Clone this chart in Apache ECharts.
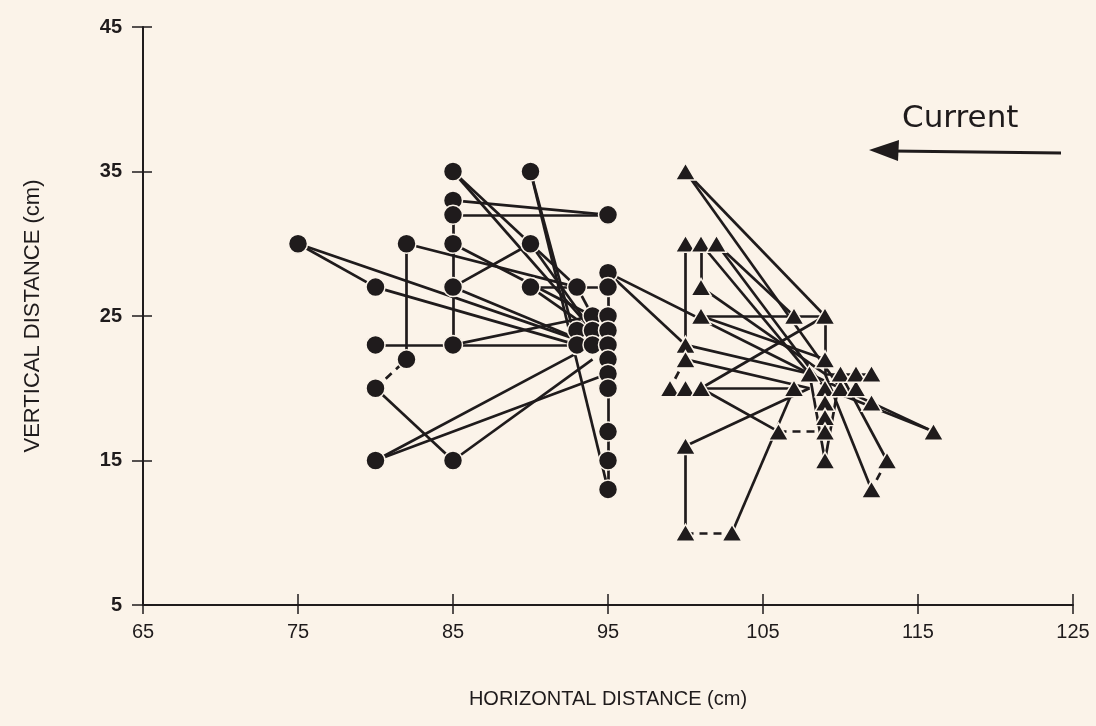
<!DOCTYPE html>
<html>
<head>
<meta charset="utf-8">
<script src="https://cdn.jsdelivr.net/npm/echarts@6/dist/echarts.min.js"></script>
<style>
  html, body { margin: 0; padding: 0; background: #fbf3e9; }
  #chart { width: 1096px; height: 726px; }
</style>
</head>
<body>
<div id="chart"></div>
<script>
// positions (cm)
const circlePoints = [
  [75, 30], [80, 27], [82, 30], [80, 23], [82, 22], [80, 20], [80, 15], [85, 15],
  [85, 35], [85, 33], [85, 32], [85, 30], [85, 27], [85, 23],
  [90, 35], [90, 30], [90, 27], [93, 27], [94, 25], [93, 24], [94, 24], [93, 23], [94, 23],
  [95, 32], [95, 28], [95, 27], [95, 25], [95, 24], [95, 23], [95, 22],
  [95, 21], [95, 20], [95, 17], [95, 15], [95, 13]
];

const trianglePoints = [
  [100, 35], [100, 30], [101, 30], [102, 30], [101, 27], [101, 25], [107, 25], [109, 25],
  [100, 23], [100, 22], [99, 20], [100, 20], [101, 20], [100, 16], [100, 10], [103, 10],
  [106, 17], [109, 22], [107, 20], [108, 21], [109, 20], [110, 20], [111, 20],
  [110, 21], [111, 21], [112, 21], [112, 19], [109, 19], [109, 18], [109, 17],
  [109, 15], [113, 15], [112, 13], [116, 17]
];

// movement segments, [from, to]
const circleTracks = [
  [[75, 30], [80, 27]], [[75, 30], [94, 23]], [[80, 27], [93, 23]], [[82, 30], [93, 27]],
  [[82, 30], [82, 22]], [[80, 23], [93, 23]], [[80, 20], [85, 15]], [[80, 15], [94, 23]],
  [[80, 15], [95, 21]], [[85, 15], [94, 22]], [[85, 35], [93, 27]], [[85, 35], [94, 24]],
  [[85, 33], [95, 32]], [[85, 32], [95, 32]], [[85, 32], [85, 23]], [[85, 30], [94, 25]],
  [[85, 27], [90, 30]], [[85, 27], [94, 23]], [[85, 23], [94, 25]], [[90, 35], [95, 13]],
  [[90, 35], [93, 23]], [[90, 30], [94, 24]], [[90, 27], [95, 27]], [[90, 27], [94, 24]],
  [[93, 27], [94, 25]], [[95, 27], [95, 13]], [[95, 28], [100, 23]], [[95, 28], [108, 21]]
];

const triangleTracks = [
  [[100, 35], [109, 25]], [[100, 35], [110, 20]], [[100, 30], [100, 23]], [[101, 30], [101, 27]],
  [[101, 30], [108, 21]], [[102, 30], [107, 25]], [[102, 30], [109, 20]], [[101, 27], [109, 21]],
  [[101, 25], [109, 25]], [[101, 25], [109, 22]], [[101, 20], [109, 25]], [[100, 23], [108, 21]],
  [[100, 22], [108, 20]], [[101, 20], [107, 20]], [[101, 20], [106, 17]], [[100, 16], [100, 10]],
  [[100, 16], [108, 20]], [[103, 10], [107, 20]], [[109, 25], [109, 21]], [[109, 21], [112, 21]],
  [[108, 21], [109, 15]], [[110, 21], [109, 15]], [[109, 21], [112, 13]], [[110, 21], [113, 15]],
  [[108, 21], [116, 17]], [[109, 20], [116, 17]], [[109, 20], [109, 17]]
];

const dashedTracks = [
  [[80, 20], [82, 22]], [[100, 22], [99, 20]], [[100, 10], [103, 10]],
  [[106, 17], [109, 17]], [[113, 15], [112, 13]]
];

const xMin = 65, xMax = 125, xStep = 10;
const yMin = 5, yMax = 45, yStep = 10;

const ink = "#1f1b1c";
const paper = "#fbf3e9";
const font = "'Liberation Sans', Arial, sans-serif";

const chart = echarts.init(document.getElementById("chart"));

const toLines = (tracks) => tracks.map((t) => ({ coords: t }));

const option = {
  backgroundColor: paper,
  animation: false,
  grid: { left: 143, right: 23, top: 27, bottom: 121 },
  xAxis: [
    {
      type: "value", min: xMin, max: xMax, interval: xStep, position: "bottom",
      name: "HORIZONTAL DISTANCE (cm)", nameLocation: "middle", nameGap: 84,
      nameTextStyle: { fontFamily: font, fontSize: 20, color: ink },
      axisLine: { lineStyle: { color: ink, width: 2 } },
      axisTick: { length: 9, lineStyle: { color: ink, width: 1.5 } },
      axisLabel: { margin: 17, color: ink, fontSize: 20, fontFamily: font },
      splitLine: { show: false }
    },
    {
      type: "value", min: xMin, max: xMax, interval: xStep, position: "bottom",
      axisLine: { show: false },
      axisTick: { inside: true, length: 11, lineStyle: { color: ink, width: 1.5 } },
      axisLabel: { show: false },
      splitLine: { show: false }
    }
  ],
  yAxis: [
    {
      type: "value", min: yMin, max: yMax, interval: yStep, position: "left",
      name: "VERTICAL DISTANCE (cm)", nameLocation: "middle", nameGap: 99,
      nameTextStyle: { fontFamily: font, fontSize: 22, color: ink },
      axisLine: { show: true, lineStyle: { color: ink, width: 2 } },
      axisTick: { show: true, length: 11, lineStyle: { color: ink, width: 1.5 } },
      axisLabel: { margin: 21, color: ink, fontSize: 20, fontWeight: "bold", fontFamily: font },
      splitLine: { show: false }
    },
    {
      type: "value", min: yMin, max: yMax, interval: yStep, position: "left",
      axisLine: { show: false },
      axisTick: { show: true, inside: true, length: 9, lineStyle: { color: ink, width: 1.5 } },
      axisLabel: { show: false },
      splitLine: { show: false }
    }
  ],
  series: [
    {
      name: "tracks", type: "lines", coordinateSystem: "cartesian2d",
      data: toLines(circleTracks.concat(triangleTracks)),
      lineStyle: { color: ink, width: 2.7, opacity: 1 },
      z: 2
    },
    {
      name: "dashed", type: "lines", coordinateSystem: "cartesian2d",
      data: toLines(dashedTracks),
      lineStyle: { color: ink, width: 2.7, opacity: 1, type: [8, 6] },
      z: 2
    },
    {
      name: "circles", type: "scatter", data: circlePoints,
      symbol: "circle", symbolSize: 19,
      itemStyle: { color: ink, borderColor: paper, borderWidth: 1.5, opacity: 1 },
      z: 3
    },
    {
      name: "triangles", type: "scatter", data: trianglePoints,
      symbol: "triangle", symbolSize: [20, 17],
      itemStyle: { color: ink, borderColor: paper, borderWidth: 1.5, opacity: 1 },
      z: 3
    }
  ],
  graphic: [
    {
      type: "text", left: 902, top: 103,
      style: { text: "Current", fontFamily: "'DejaVu Sans', sans-serif", fontSize: 31, fill: ink }
    },
    {
      type: "line",
      shape: { x1: 892, y1: 151, x2: 1061, y2: 153 },
      style: { stroke: ink, lineWidth: 3 }
    },
    {
      type: "polygon",
      shape: { points: [[869, 150], [899, 140], [898, 161]] },
      style: { fill: ink }
    }
  ]
};

chart.setOption(option);
window.addEventListener("resize", () => chart.resize());
</script>
</body>
</html>
